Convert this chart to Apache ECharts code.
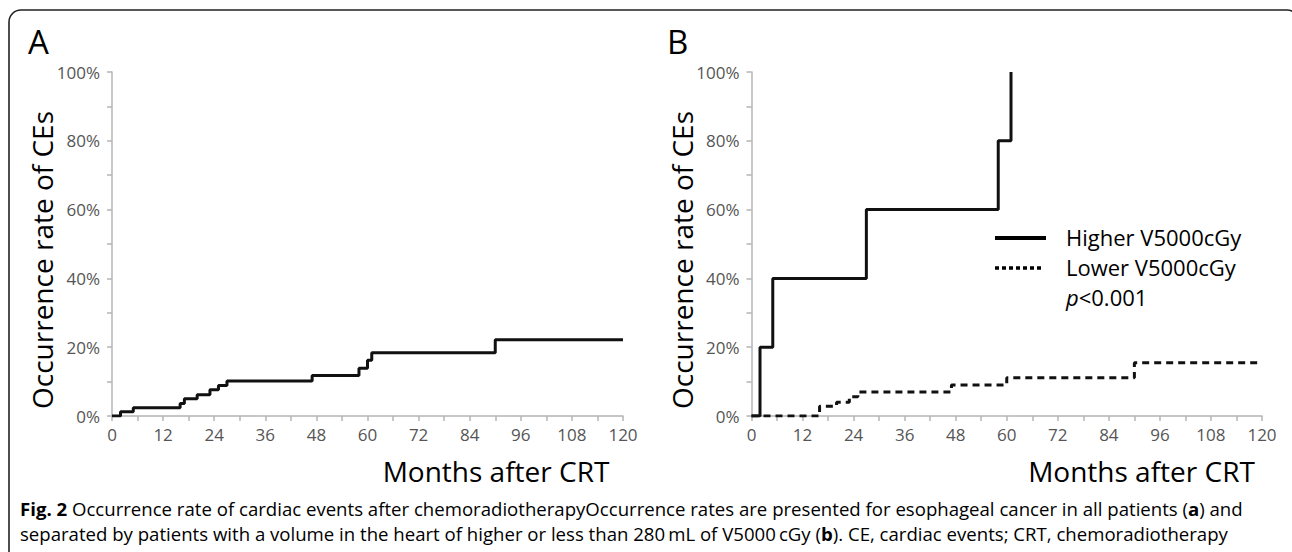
<!DOCTYPE html>
<html>
<head>
<meta charset="utf-8">
<script src="https://cdn.jsdelivr.net/npm/echarts@6/dist/echarts.min.js"></script>
<style>
html,body{margin:0;padding:0;background:#fff;}
#chart{width:1292px;height:552px;}
</style>
</head>
<body>
<div id="chart"></div>
<script>
// ---- data ----
const monthsAll = [0, 2, 5, 16, 17, 20, 23, 25, 27, 47, 58, 60, 61, 90, 120];
const rateAll   = [0, 1.2, 2.4, 3.6, 5.0, 6.2, 7.6, 8.9, 10.2, 11.8, 13.9, 16.2, 18.4, 22.2, 22.2];
const monthsHigh = [0, 2, 5, 27, 58, 61];
const rateHigh   = [0, 20, 40, 60, 80, 100];
const monthsLow = [0, 16, 20, 23, 25, 47, 60, 90, 120];
const rateLow   = [0, 2.8, 4.0, 5.6, 7.0, 9.0, 11.1, 15.5, 15.5];
const xTickLabels = [0, 12, 24, 36, 48, 60, 72, 84, 96, 108, 120];
const yTickLabels = [0, 20, 40, 60, 80, 100];
const seriesNames = ['Higher V5000cGy', 'Lower V5000cGy'];
const pText = '<0.001';
const panelLabels = ['A', 'B'];
const xName = 'Months after CRT';
const yName = 'Occurrence rate of CEs';
const captionLine1 = ['Fig. 2', ' Occurrence rate of cardiac events after chemoradiotherapyOccurrence rates are presented for esophageal cancer in all patients (', 'a', ') and'];
const captionLine2 = ['separated by patients with a volume in the heart of higher or less than 280\u2009mL of V5000\u2009cGy (', 'b', '). CE, cardiac events; CRT, chemoradiotherapy'];

const pairs = (xs, ys) => xs.map((x, i) => [x, ys[i]]);
const FONT = '"Open Sans", "Noto Sans", sans-serif';
const axisGray = '#b4b4b4';

function xAxis(gi) {
  return {
    type: 'value', gridIndex: gi, min: 0, max: 120, interval: 6,
    axisLine: { show: true, lineStyle: { color: axisGray, width: 1.5 } },
    axisTick: { show: true, length: 5, lineStyle: { color: axisGray, width: 1.5 } },
    splitLine: { show: false },
    axisLabel: {
      margin: 10, color: '#555', fontSize: 17, fontFamily: FONT,
      formatter: v => xTickLabels.includes(v) ? String(v) : ''
    }
  };
}
function yAxis(gi) {
  return {
    type: 'value', gridIndex: gi, min: 0, max: 100, interval: 10,
    axisLine: { show: true, lineStyle: { color: axisGray, width: 1.5 } },
    axisTick: { show: true, length: 5, lineStyle: { color: axisGray, width: 1.5 } },
    splitLine: { show: false },
    axisLabel: {
      margin: 12, color: '#555', fontSize: 17, fontFamily: FONT,
      formatter: v => yTickLabels.includes(v) ? v + '%' : ''
    }
  };
}

const chart = echarts.init(document.getElementById('chart'), null, { renderer: 'svg' });

const CAP = 18.6;
const rich = { b: { fontWeight: 'bold', fontSize: CAP, fontFamily: FONT, color: '#333' },
               n: { fontSize: CAP, fontFamily: FONT, color: '#333' } };
const capText = (parts, boldIdx) => parts.map((p, i) => boldIdx.includes(i) ? '{b|' + p + '}' : '{n|' + p + '}').join('');

chart.setOption({
  animation: false,
  backgroundColor: '#fff',
  grid: [
    { left: 112, top: 72, width: 511, height: 344 },
    { left: 751.5, top: 72, width: 510.5, height: 344 }
  ],
  xAxis: [xAxis(0), xAxis(1)],
  yAxis: [yAxis(0), yAxis(1)],
  series: [
    { name: 'All patients', type: 'line', xAxisIndex: 0, yAxisIndex: 0, step: 'end', symbol: 'none',
      data: pairs(monthsAll, rateAll), lineStyle: { color: '#111', width: 3 } },
    { name: seriesNames[0], type: 'line', xAxisIndex: 1, yAxisIndex: 1, step: 'end', symbol: 'none',
      data: pairs(monthsHigh, rateHigh), lineStyle: { color: '#111', width: 3 } },
    { name: seriesNames[1], type: 'line', xAxisIndex: 1, yAxisIndex: 1, step: 'end', symbol: 'none',
      data: pairs(monthsLow, rateLow), lineStyle: { color: '#111', width: 3, type: [7, 5] } }
  ],
  graphic: [
    { type: 'rect', shape: { x: 9, y: 10, width: 1290, height: 560, r: 12 },
      style: { fill: 'none', stroke: '#222', lineWidth: 1.6 }, silent: true },
    { type: 'text', x: 28, y: 41, style: { text: panelLabels[0], fontSize: 33, fontFamily: FONT, fill: '#000', verticalAlign: 'middle' } },
    { type: 'text', x: 667, y: 41, style: { text: panelLabels[1], fontSize: 33, fontFamily: FONT, fill: '#000', verticalAlign: 'middle' } },
    { type: 'text', x: 42, y: 260, rotation: Math.PI / 2,
      style: { text: yName, fontSize: 28, fontFamily: FONT, fill: '#000', align: 'center', verticalAlign: 'middle' } },
    { type: 'text', x: 682, y: 260, rotation: Math.PI / 2,
      style: { text: yName, fontSize: 28, fontFamily: FONT, fill: '#000', align: 'center', verticalAlign: 'middle' } },
    { type: 'text', x: 496, y: 471, style: { text: xName, fontSize: 28, fontFamily: FONT, fill: '#000', align: 'center', verticalAlign: 'middle' } },
    { type: 'text', x: 1141.5, y: 471, style: { text: xName, fontSize: 28, fontFamily: FONT, fill: '#000', align: 'center', verticalAlign: 'middle' } },
    // legend
    { type: 'line', shape: { x1: 995, y1: 238, x2: 1046, y2: 238 }, style: { stroke: '#000', lineWidth: 4 } },
    { type: 'line', shape: { x1: 995, y1: 268, x2: 1042, y2: 268 }, style: { stroke: '#000', lineWidth: 3.5, lineDash: [4, 3] } },
    { type: 'text', x: 1066, y: 237, style: { text: seriesNames[0], fontSize: 22, fontFamily: FONT, fill: '#000', verticalAlign: 'middle' } },
    { type: 'text', x: 1066, y: 267, style: { text: seriesNames[1], fontSize: 22, fontFamily: FONT, fill: '#000', verticalAlign: 'middle' } },
    { type: 'text', x: 1066, y: 297, style: { text: '{i|p}{n|' + pText + '}', verticalAlign: 'middle',
        rich: { i: { fontStyle: 'italic', fontSize: 22, fontFamily: FONT, color: '#000' },
                n: { fontSize: 22, fontFamily: FONT, color: '#000' } } } },
    // caption
    { type: 'text', x: 20, y: 508, style: { text: capText(captionLine1, [0, 2]), rich: rich, verticalAlign: 'middle' } },
    { type: 'text', x: 20, y: 533, style: { text: capText(captionLine2, [1]), rich: rich, verticalAlign: 'middle' } }
  ]
});
</script>
</body>
</html>
